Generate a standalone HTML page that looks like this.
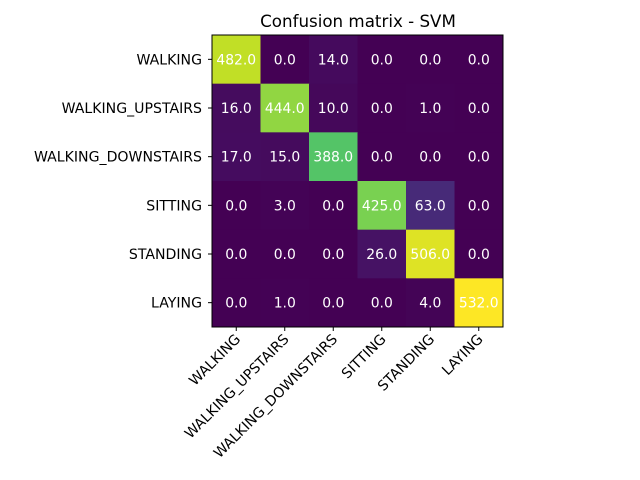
<!DOCTYPE html>
<html><head><meta charset="utf-8">
<style>body{margin:0;background:#fff}svg{display:block;font-family:"DejaVu Sans","Liberation Sans",sans-serif}</style>
</head><body>
<svg id="chart" width="640" height="480">
<text x="358" y="27" text-anchor="middle" font-size="16.7" fill="#000">Confusion matrix - SVM</text>
<g id="cells"></g><g id="ticks"></g>
<rect x="212" y="35" width="291" height="292" fill="none" stroke="#000" stroke-width="1"/>
</svg>
<script>
const labels = ["WALKING","WALKING_UPSTAIRS","WALKING_DOWNSTAIRS","SITTING","STANDING","LAYING"];
const row0 = [482,0,14,0,0,0];
const row1 = [16,444,10,0,1,0];
const row2 = [17,15,388,0,0,0];
const row3 = [0,3,0,425,63,0];
const row4 = [0,0,0,26,506,0];
const row5 = [0,1,0,0,4,532];
const matrix = [row0,row1,row2,row3,row4,row5];

const NS="http://www.w3.org/2000/svg";
const x0=212,y0=35,W=291,H=292,n=labels.length,cw=W/n,ch=H/n;
const xs=i=>x0+i*cw, ys=j=>y0+j*ch;
const stops=[[68,1,84],[72,36,117],[65,68,135],[53,95,141],[42,120,142],[33,145,140],[34,168,132],[68,191,112],[122,209,81],[189,223,38],[253,231,37]];
function viridis(t){t=Math.max(0,Math.min(1,t));const p=t*10,i=Math.min(9,Math.floor(p)),f=p-i;const a=stops[i],b=stops[i+1];return `rgb(${a.map((v,k)=>Math.round(v+(b[k]-v)*f)).join(',')})`;}
let mx=0,mn=Infinity;matrix.forEach(r=>r.forEach(v=>{mx=Math.max(mx,v);mn=Math.min(mn,v);}));
const cg=document.getElementById('cells'),tg=document.getElementById('ticks');
function mk(tag,attrs,parent){const e=document.createElementNS(NS,tag);for(const k in attrs)e.setAttribute(k,attrs[k]);parent.appendChild(e);return e;}
matrix.forEach((r,j)=>r.forEach((v,i)=>{
  const rc=mk('rect',{x:xs(i),y:ys(j),width:cw+0.5,height:ch+0.5,fill:viridis((v-mn)/(mx-mn))},cg);
  
  
  const t=mk('text',{x:xs(i)+cw/2,y:ys(j)+ch/2+5,'text-anchor':'middle','font-size':'13.9',fill:'#fff'},cg);
  t.textContent=v.toFixed(1);
  
  
}));
labels.forEach((l,k)=>{
  const cy=ys(k)+ch/2;
  mk('line',{x1:x0-4,x2:x0,y1:cy,y2:cy,stroke:'#000'},tg);
  const t=mk('text',{x:x0-10,y:cy+5,'text-anchor':'end','font-size':'14.1',fill:'#000'},tg);
  t.textContent=l;
  
  
  const cx=xs(k)+cw/2;
  mk('line',{x1:cx,x2:cx,y1:y0+H,y2:y0+H+4,stroke:'#000'},tg);
  const u=mk('text',{x:cx+5,y:y0+H+13,'text-anchor':'end','font-size':'14.1',fill:'#000',transform:`rotate(-45 ${cx+5} ${y0+H+13})`},tg);
  u.textContent=l;
  
  
});
</script>
</body></html>
